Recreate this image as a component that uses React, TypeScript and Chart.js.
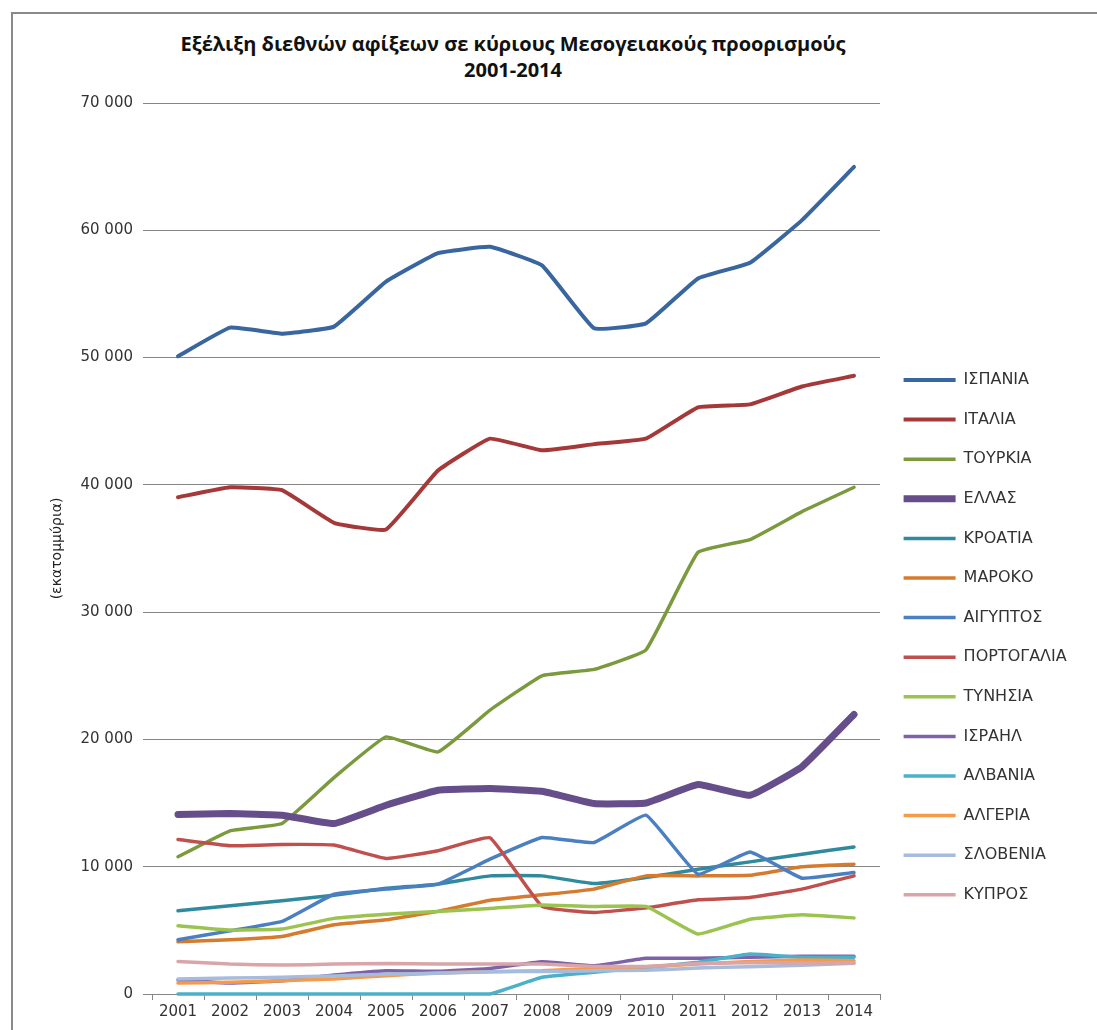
import React, { useEffect, useRef } from 'react';
import { Chart, registerables } from 'chart.js';

Chart.register(...registerables);

const years = ['2001', '2002', '2003', '2004', '2005', '2006', '2007', '2008', '2009', '2010', '2011', '2012', '2013', '2014'];

const seriesNames = ['ΙΣΠΑΝΙΑ', 'ΙΤΑΛΙΑ', 'ΤΟΥΡΚΙΑ', 'ΕΛΛΑΣ', 'ΚΡΟΑΤΙΑ', 'ΜΑΡΟΚΟ', 'ΑΙΓΥΠΤΟΣ', 'ΠΟΡΤΟΓΑΛΙΑ', 'ΤΥΝΗΣΙΑ', 'ΙΣΡΑΗΛ', 'ΑΛΒΑΝΙΑ', 'ΑΛΓΕΡΙΑ', 'ΣΛΟΒΕΝΙΑ', 'ΚΥΠΡΟΣ'];

const spain = [50100, 52350, 51880, 52430, 55960, 58200, 58700, 57240, 52300, 52690, 56220, 57450, 60800, 64980];
const italy = [39030, 39810, 39580, 37020, 36490, 41120, 43630, 42710, 43200, 43630, 46090, 46320, 47730, 48570];
const turkey = [10780, 12820, 13390, 17000, 20200, 19020, 22300, 25000, 25500, 27040, 34700, 35700, 37900, 39810];
const greece = [14100, 14180, 14050, 13390, 14830, 16010, 16140, 15930, 14960, 15010, 16450, 15610, 17860, 21960];
const croatia = [6540, 6930, 7320, 7760, 8300, 8630, 9280, 9280, 8680, 9150, 9800, 10380, 10980, 11550];
const morocco = [4100, 4260, 4520, 5440, 5830, 6490, 7370, 7790, 8240, 9280, 9280, 9330, 9990, 10200];
const egypt = [4260, 4960, 5700, 7840, 8240, 8630, 10590, 12290, 11900, 14050, 9410, 11160, 9100, 9540];
const portugal = [12140, 11650, 11750, 11700, 10650, 11250, 12270, 6880, 6410, 6770, 7400, 7580, 8240, 9280];
const tunisia = [5360, 5020, 5100, 5940, 6270, 6490, 6720, 7000, 6880, 6880, 4710, 5880, 6220, 5980];
const israel = [1100, 860, 1040, 1490, 1830, 1780, 2010, 2530, 2220, 2800, 2800, 2880, 2960, 2960];
const albania = [0, 0, 0, 0, 0, 0, 0, 1310, 1700, 2090, 2490, 3140, 2880, 2880];
const algeria = [860, 920, 1050, 1180, 1440, 1650, 1750, 1830, 2010, 2140, 2350, 2560, 2670, 2610];
const slovenia = [1180, 1250, 1320, 1420, 1550, 1630, 1750, 1770, 1820, 1870, 2040, 2150, 2250, 2410];
const cyprus = [2560, 2350, 2270, 2350, 2400, 2350, 2350, 2350, 2170, 2170, 2390, 2460, 2440, 2440];

const seriesValues = [spain, italy, turkey, greece, croatia, morocco, egypt, portugal, tunisia, israel, albania, algeria, slovenia, cyprus];
const seriesColors = ['#3A66A0', '#A5393A', '#7A9A3D', '#654E8A', '#2F8A9E', '#D67B2E', '#4A7FC1', '#C0504D', '#9BC34F', '#7E62A8', '#4BB0CA', '#F59A4A', '#A7BBDD', '#D9A5A8'];
const seriesWidths = [4, 4, 3.5, 7, 3.5, 3.5, 3.5, 3.5, 3.5, 3.5, 3.5, 3.5, 3.5, 3.5];

const yTicks = [0, 10000, 20000, 30000, 40000, 50000, 60000, 70000];
const titleLines = ['Εξέλιξη διεθνών αφίξεων σε κύριους Μεσογειακούς προορισμούς', '2001-2014'];
const yAxisTitle = '(εκατομμύρια)';

const FONT = '"DejaVu Sans", "Noto Sans", sans-serif';

export default function App() {
  const ref = useRef<HTMLCanvasElement>(null);

  useEffect(() => {
    const canvas = ref.current;
    if (!canvas) return;
    const W = 1083;
    const legendFontSize = 16;
    const mctx = document.createElement('canvas').getContext('2d')!;
    mctx.font = `${legendFontSize}px "DejaVu Sans"`;
    const maxText = Math.max(...seriesNames.map((n) => mctx.measureText(n).width));
    const labelPad = 23.6;
    const boxW = 52;
    const legendWidth = labelPad + boxW + legendFontSize / 2 + maxText + 10;
    const plotRight = 866;
    const padRight = Math.max(0, W - plotRight - legendWidth);

    const datasets = seriesNames.map((name, i) => ({
      label: name,
      data: seriesValues[i],
      borderColor: seriesColors[i],
      backgroundColor: seriesColors[i],
      borderWidth: seriesWidths[i],
      pointRadius: 0,
      pointHoverRadius: 0,
      tension: 0.1,
      borderCapStyle: 'round' as const,
      borderJoinStyle: 'round' as const,
      fill: false,
      clip: 8,
      order: seriesNames.length - i,
    }));

    const chart = new Chart(canvas, {
      type: 'line',
      data: { labels: years, datasets },
      options: {
        animation: false,
        responsive: false,
        devicePixelRatio: 1,
        layout: { padding: { top: 88, bottom: 6, left: 0, right: padRight } },
        plugins: {
          title: { display: false },
          tooltip: { enabled: false },
          legend: {
            display: true,
            position: 'right',
            align: 'start',
            title: { display: true, text: ' ', font: { size: 10, family: FONT }, padding: { top: 233.4, bottom: 0 } },
            labels: {
              usePointStyle: true,
              pointStyle: 'line',
              pointStyleWidth: boxW,
              boxHeight: legendFontSize,
              padding: labelPad,
              color: '#333333',
              font: { family: FONT, size: legendFontSize },
              sort: (a: any, b: any) => a.datasetIndex - b.datasetIndex,
            },
          },
        },
        scales: {
          x: {
            type: 'category',
            offset: true,
            grid: {
              display: true,
              offset: true,
              drawOnChartArea: false,
              drawTicks: true,
              tickLength: 6,
              color: '#868686',
            },
            border: { display: true, color: '#868686', width: 1 },
            ticks: {
              color: '#333333',
              font: { family: FONT, size: 15 },
              padding: 3,
              maxRotation: 0,
              autoSkip: false,
            },
          },
          y: {
            min: 0,
            max: 70000,
            afterFit: (scale: any) => {
              scale.width = 138;
            },
            afterBuildTicks: (scale: any) => {
              scale.ticks = yTicks.map((v) => ({ value: v }));
            },
            grid: { color: '#868686', lineWidth: 1, tickLength: 9, drawTicks: true },
            border: { display: false },
            ticks: {
              color: '#333333',
              font: { family: FONT, size: 15 },
              padding: 10,
              callback: (v: any) => (Number(v) === 0 ? '0' : `${Number(v) / 1000} 000`),
            },
            title: {
              display: true,
              text: yAxisTitle,
              color: '#222222',
              font: { family: FONT, size: 14 },
              padding: { top: 35, bottom: 0 },
            },
          },
        },
      },
    });
    return () => chart.destroy();
  }, []);

  return (
    <div style={{ position: 'fixed', left: 0, top: 0, width: 1097, height: 1030, overflow: 'hidden', background: '#ffffff' }}>
      <div
        style={{
          position: 'absolute',
          left: 11,
          top: 12,
          width: 1200,
          height: 1200,
          border: '2.5px solid #8a8a8a',
          boxSizing: 'border-box',
        }}
      />
      <div
        style={{
          position: 'absolute',
          left: 0,
          top: 31,
          width: 1026,
          textAlign: 'center',
          fontFamily: '"Open Sans", sans-serif',
          fontWeight: 700,
          fontSize: 20,
          lineHeight: '26px',
          color: '#111111',
        }}
      >
        {titleLines.map((t) => (
          <div key={t}>{t}</div>
        ))}
      </div>
      <canvas
        ref={ref}
        width={1083}
        height={1015}
        style={{ position: 'absolute', left: 14, top: 15, width: 1083, height: 1015 }}
      />
    </div>
  );
}
